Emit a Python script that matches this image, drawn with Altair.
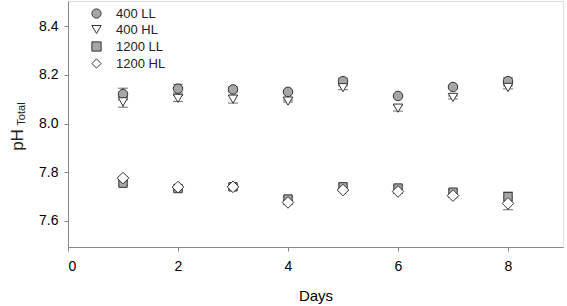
import altair as alt
import pandas as pd

days = [1, 2, 3, 4, 5, 6, 7, 8]
series = ["400 LL", "400 HL", "1200 LL", "1200 HL"]
ph_400_ll = [8.121, 8.143, 8.140, 8.130, 8.174, 8.113, 8.150, 8.174]
ph_400_hl = [8.089, 8.103, 8.100, 8.092, 8.147, 8.063, 8.107, 8.148]
ph_1200_ll = [7.755, 7.733, 7.740, 7.690, 7.740, 7.735, 7.718, 7.700]
ph_1200_hl = [7.776, 7.739, 7.740, 7.676, 7.727, 7.721, 7.704, 7.672]
sd_400_ll = [0.024, 0.018, 0.010, 0.006, 0.012, 0.006, 0.006, 0.014]
sd_400_hl = [0.022, 0.012, 0.016, 0.004, 0.008, 0.012, 0.006, 0.006]
sd_1200_ll = [0.008, 0.010, 0.004, 0.010, 0.012, 0.010, 0.010, 0.018]
sd_1200_hl = [0.006, 0.008, 0.004, 0.008, 0.006, 0.008, 0.006, 0.026]

shapes = ["circle", "triangle-down", "square", "diamond"]
fills = ["#a6a6a6", "#ffffff", "#a6a6a6", "#ffffff"]
strokes = ["#333333", "#333333", "#333333", "#333333"]
sizes = [90, 90, 70, 135]

rows = []
for name, vals, sds in zip(series, [ph_400_ll, ph_400_hl, ph_1200_ll, ph_1200_hl],
                           [sd_400_ll, sd_400_hl, sd_1200_ll, sd_1200_hl]):
    for d, v, s in zip(days, vals, sds):
        rows.append({"day": d, "ph": v, "lo": v - s, "hi": v + s, "series": name})
df = pd.DataFrame(rows)

FONT = "Liberation Sans"
xs = alt.Scale(domain=[0, 9], nice=False)
ys = alt.Scale(domain=[7.493, 8.503], nice=False, zero=False)

x = alt.X("day:Q", scale=xs,
          axis=alt.Axis(title="Days", values=[0, 2, 4, 6, 8], format="d",
                        grid=False, tickSize=4, labelFontSize=14, titleFontSize=15,
                        labelPadding=8, titlePadding=15, titleFontWeight="normal"))
y = alt.Y("ph:Q", scale=ys,
          axis=alt.Axis(title=None, values=[7.6, 7.8, 8.0, 8.2, 8.4], format=".1f",
                        grid=False, tickSize=4, labelFontSize=14, labelPadding=6))

base = alt.Chart(df)

rule = base.mark_rule(color="#333333", strokeWidth=1).encode(
    x=alt.X("day:Q", scale=xs), y=alt.Y("lo:Q", scale=ys), y2="hi:Q", detail="series:N")
cap_lo = base.mark_tick(color="#333333", orient="horizontal", size=10, thickness=1).encode(
    x=alt.X("day:Q", scale=xs), y=alt.Y("lo:Q", scale=ys))
cap_hi = base.mark_tick(color="#333333", orient="horizontal", size=10, thickness=1).encode(
    x=alt.X("day:Q", scale=xs), y=alt.Y("hi:Q", scale=ys))

legend = alt.Legend(title=None, orient="none", legendX=22, legendY=6,
                    labelFontSize=13, labelFont=FONT, symbolSize=85,
                    symbolStrokeWidth=1, labelColor="#222222",
                    rowPadding=2, labelOffset=13)

point_layers = []
for name, sz in zip(series, sizes):
    point_layers.append(
        base.transform_filter(alt.datum.series == name)
        .mark_point(filled=True, size=sz, strokeWidth=1, opacity=1)
        .encode(
            x=x, y=y,
            shape=alt.Shape("series:N", scale=alt.Scale(domain=series, range=shapes), legend=legend),
            fill=alt.Fill("series:N", scale=alt.Scale(domain=series, range=fills), legend=None),
            stroke=alt.Stroke("series:N", scale=alt.Scale(domain=series, range=strokes), legend=None),
        )
    )

title_ph = alt.Chart(pd.DataFrame({"t": ["pH"]})).mark_text(
    angle=270, font=FONT, fontSize=17, color="#222222", align="center", baseline="middle"
).encode(text="t:N", x=alt.value(-50), y=alt.value(139))
title_sub = alt.Chart(pd.DataFrame({"t": ["Total"]})).mark_text(
    angle=270, font=FONT, fontSize=11, color="#222222", align="center", baseline="middle"
).encode(text="t:N", x=alt.value(-46), y=alt.value(113))

chart = alt.layer(rule, cap_lo, cap_hi, *point_layers, title_ph, title_sub).properties(
    width=495, height=246,
    padding={"left": 68, "top": 1, "right": 4, "bottom": 59},
    autosize=alt.AutoSizeParams(type="none"),
).configure_view(stroke="#666666", strokeWidth=1.5).configure_axis(
    domainColor="#555555", tickColor="#555555", labelColor="#222222", titleColor="#222222",
    labelFont=FONT, titleFont=FONT, domainWidth=1.5
).configure(background="white")

chart.save("out.html", embed_options={"renderer": "svg", "actions": False})
